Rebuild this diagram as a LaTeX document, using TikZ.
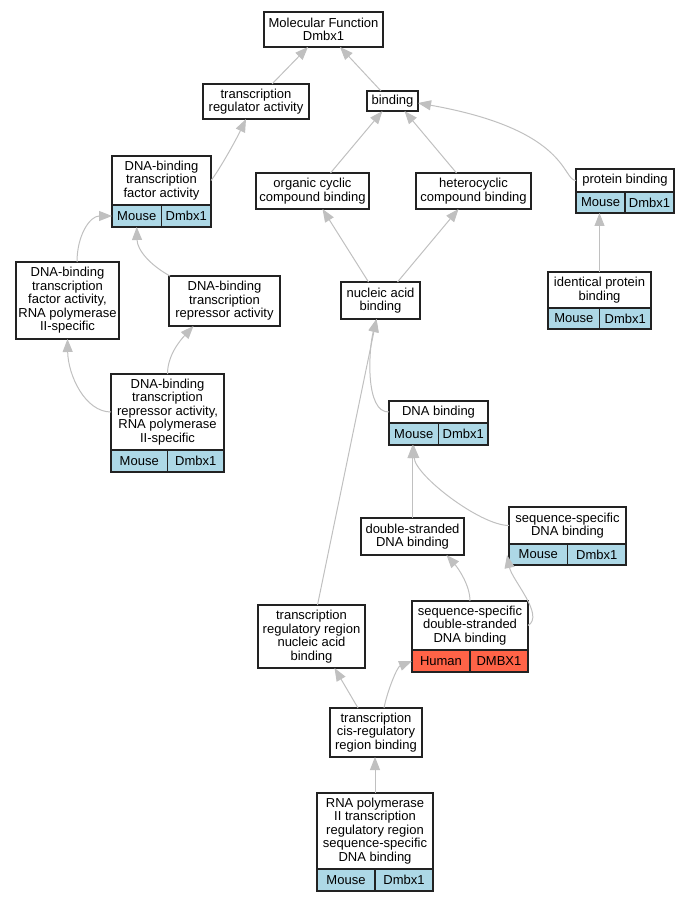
\documentclass[tikz,border=0pt]{standalone}
\usepackage{fontspec}
\setmainfont{Liberation Sans}
\usepackage{tikz}
\usetikzlibrary{arrows.meta,positioning}
\definecolor{lightblue}{HTML}{ADD8E6}
\definecolor{tomato}{HTML}{FF6347}
\definecolor{edgegray}{HTML}{C0C0C0}
\definecolor{boxline}{HTML}{222222}

\begin{document}
\begin{tikzpicture}[x=1pt,y=-1pt]
                \tikzstyle{every node}+=[inner sep=0pt, outer sep=0pt]
                \tikzstyle{term}=[draw=boxline, line width=1.1pt, fill=white, align=center, font=\fontsize{13}{13.5}\selectfont]
                \tikzstyle{mouse}=[term, fill=lightblue, minimum height=22pt]
                \tikzstyle{human}=[term, fill=tomato, minimum height=22pt]
                \tikzstyle{isa}=[draw=edgegray, line width=1pt, -{Triangle[length=13pt,width=10pt]}]
                \useasboundingbox (0,0) rectangle (691,901);
                \node[term, minimum width=119pt, minimum height=35pt] (mf) at (323.5,29.5) {Molecular Function\\Dmbx1};
                \node[term, minimum width=106pt, minimum height=35pt] (tra) at (256,101.5) {transcription\\regulator activity};
                \node[term, minimum width=51pt, minimum height=20pt] (bind) at (392.5,101) {binding};
                \node[term, minimum width=99pt, minimum height=49pt] (dbtfa) at (161.5,180.5) {DNA-binding\\transcription\\factor activity};
                \node[mouse, minimum width=49.5pt, anchor=north west] (dbtfa-sp) at (dbtfa.south west) {Mouse};
                \node[mouse, minimum width=49.5pt, anchor=north east] (dbtfa-gn) at (dbtfa.south east) {Dmbx1};
                \node[term, minimum width=113pt, minimum height=36pt] (occb) at (312.5,191) {organic cyclic\\compound binding};
                \node[term, minimum width=115pt, minimum height=36pt] (hcb) at (473.5,191) {heterocyclic\\compound binding};
                \node[term, minimum width=98pt, minimum height=23pt] (pb) at (625,180.5) {protein binding};
                \node[mouse, minimum width=49pt, minimum height=21pt, anchor=north west] (pb-sp) at (pb.south west) {Mouse};
                \node[mouse, minimum width=49pt, minimum height=21pt, anchor=north east] (pb-gn) at (pb.south east) {Dmbx1};
                \node[term, minimum width=103pt, minimum height=36pt] (ipb) at (599.5,290) {identical protein\\binding};
                \node[mouse, minimum width=51.5pt, minimum height=21pt, anchor=north west] (ipb-sp) at (ipb.south west) {Mouse};
                \node[mouse, minimum width=51.5pt, minimum height=21pt, anchor=north east] (ipb-gn) at (ipb.south east) {Dmbx1};
                \node[term, minimum width=79pt, minimum height=37pt] (nab) at (380.5,300.5) {nucleic acid\\binding};
                \node[term, minimum width=103pt, minimum height=77pt] (dbtfa2) at (67.5,300.5) {DNA-binding\\transcription\\factor activity,\\RNA polymerase\\II-specific};
                \node[term, minimum width=111pt, minimum height=50pt] (dbtra) at (224.5,301) {DNA-binding\\transcription\\repressor activity};
                \node[term, minimum width=113pt, minimum height=76pt] (dbtra2) at (167.5,412) {DNA-binding\\transcription\\repressor activity,\\RNA polymerase\\II-specific};
                \node[mouse, minimum width=56.5pt, anchor=north west] (dbtra2-sp) at (dbtra2.south west) {Mouse};
                \node[mouse, minimum width=56.5pt, anchor=north east] (dbtra2-gn) at (dbtra2.south east) {Dmbx1};
                \node[term, minimum width=99pt, minimum height=22pt] (dnab) at (438.5,412) {DNA binding};
                \node[mouse, minimum width=49.5pt, anchor=north west] (dnab-sp) at (dnab.south west) {Mouse};
                \node[mouse, minimum width=49.5pt, anchor=north east] (dnab-gn) at (dnab.south east) {Dmbx1};
                \node[term, minimum width=103pt, minimum height=37pt] (dsdb) at (412.5,536.5) {double-stranded\\DNA binding};
                \node[term, minimum width=117pt, minimum height=37pt] (ssdb) at (567.5,525.5) {sequence-specific\\DNA binding};
                \node[mouse, minimum width=58.5pt, minimum height=21pt, anchor=north west] (ssdb-sp) at (ssdb.south west) {Mouse};
                \node[mouse, minimum width=58.5pt, minimum height=21pt, anchor=north east] (ssdb-gn) at (ssdb.south east) {Dmbx1};
                \node[term, minimum width=116pt, minimum height=49pt] (ssdsdb) at (470,625.5) {sequence-specific\\double-stranded\\DNA binding};
                \node[human, minimum width=58pt, anchor=north west] (ssdsdb-sp) at (ssdsdb.south west) {Human};
                \node[human, minimum width=58pt, anchor=north east] (ssdsdb-gn) at (ssdsdb.south east) {DMBX1};
                \node[term, minimum width=107pt, minimum height=63pt] (trrnab) at (311.5,636.5) {transcription\\regulatory region\\nucleic acid\\binding};
                \node[term, minimum width=92pt, minimum height=49pt] (tcrb) at (376,732.5) {transcription\\cis-regulatory\\region binding};
                \node[term, minimum width=116pt, minimum height=76pt] (rnap) at (375,831) {RNA polymerase\\II transcription\\regulatory region\\sequence-specific\\DNA binding};
                \node[mouse, minimum width=58pt, anchor=north west] (rnap-sp) at (rnap.south west) {Mouse};
                \node[mouse, minimum width=58pt, anchor=north east] (rnap-gn) at (rnap.south east) {Dmbx1};
                \draw[isa] ([xshift=16pt]tra.north) -- ([xshift=-15.5pt]mf.south);
                \draw[isa] ([xshift=-11.5pt]bind.north) -- ([xshift=16.5pt]mf.south);
                \draw[isa] (dbtfa.east) .. controls +(8,-10) and +(-10,21) .. ([xshift=-10pt]tra.south);
                \draw[isa] ([xshift=18pt]occb.north) -- ([xshift=-10pt]bind.south);
                \draw[isa] ([xshift=-17pt]hcb.north) -- ([xshift=12pt]bind.south);
                \draw[isa] (pb.west) .. controls +(-14,0) and +(152,27) .. ([yshift=-2pt]bind.east);
                \draw[isa] (ipb.north) -- (ipb.north |- pb-sp.south);
                \draw[isa] ([xshift=-12pt]nab.north) -- ([xshift=10pt]occb.south);
                \draw[isa] ([xshift=17pt]nab.north) -- ([xshift=-15pt]hcb.south);
                \draw[isa] ([xshift=9.5pt]dbtfa2.north) .. controls +(0,-27) and +(-22,0) .. (dbtfa-sp.west);
                \draw[isa] ([xshift=1pt]dbtra.north west) .. controls +(-20,-11) and +(0.5,23) .. (dbtfa-sp.south);
                \draw[isa] (dbtra2.west) .. controls +(-26,0) and +(0.5,36) .. (dbtfa2.south);
                \draw[isa] (dbtra2.north) .. controls +(0,-19) and +(-13,14) .. ([xshift=-31pt]dbtra.south);
                \draw[isa] (dnab.west) .. controls +(-24,1) and +(-8,31) .. ([xshift=-4pt]nab.south);
                \draw[isa] ([xshift=6pt]trrnab.north) -- ([xshift=-4pt]nab.south);
                \draw[isa] (dsdb.north) -- (dsdb.north |- dnab-sp.south);
                \draw[isa] (ssdb.west) .. controls +(-29,0) and +(1,30) .. (dnab-sp.south);
                \draw[isa] (ssdsdb.north) .. controls +(0,-16) and +(11.5,13) .. ([xshift=34pt]dsdb.south);
                \draw[isa] (ssdsdb.east) .. controls +(17,-10) and +(5,25) .. ([xshift=-2pt,yshift=10pt]ssdb-sp.south west);
                \draw[isa] ([xshift=-18pt]tcrb.north) -- ([xshift=23pt]trrnab.south);
                \draw[isa] ([xshift=8pt]tcrb.north) .. controls +(3,-16) and +(-15,6) .. (ssdsdb-sp.west);
                \draw[isa] (rnap.north) -- (rnap.north |- tcrb.south);
            \end{tikzpicture}
\end{document}
